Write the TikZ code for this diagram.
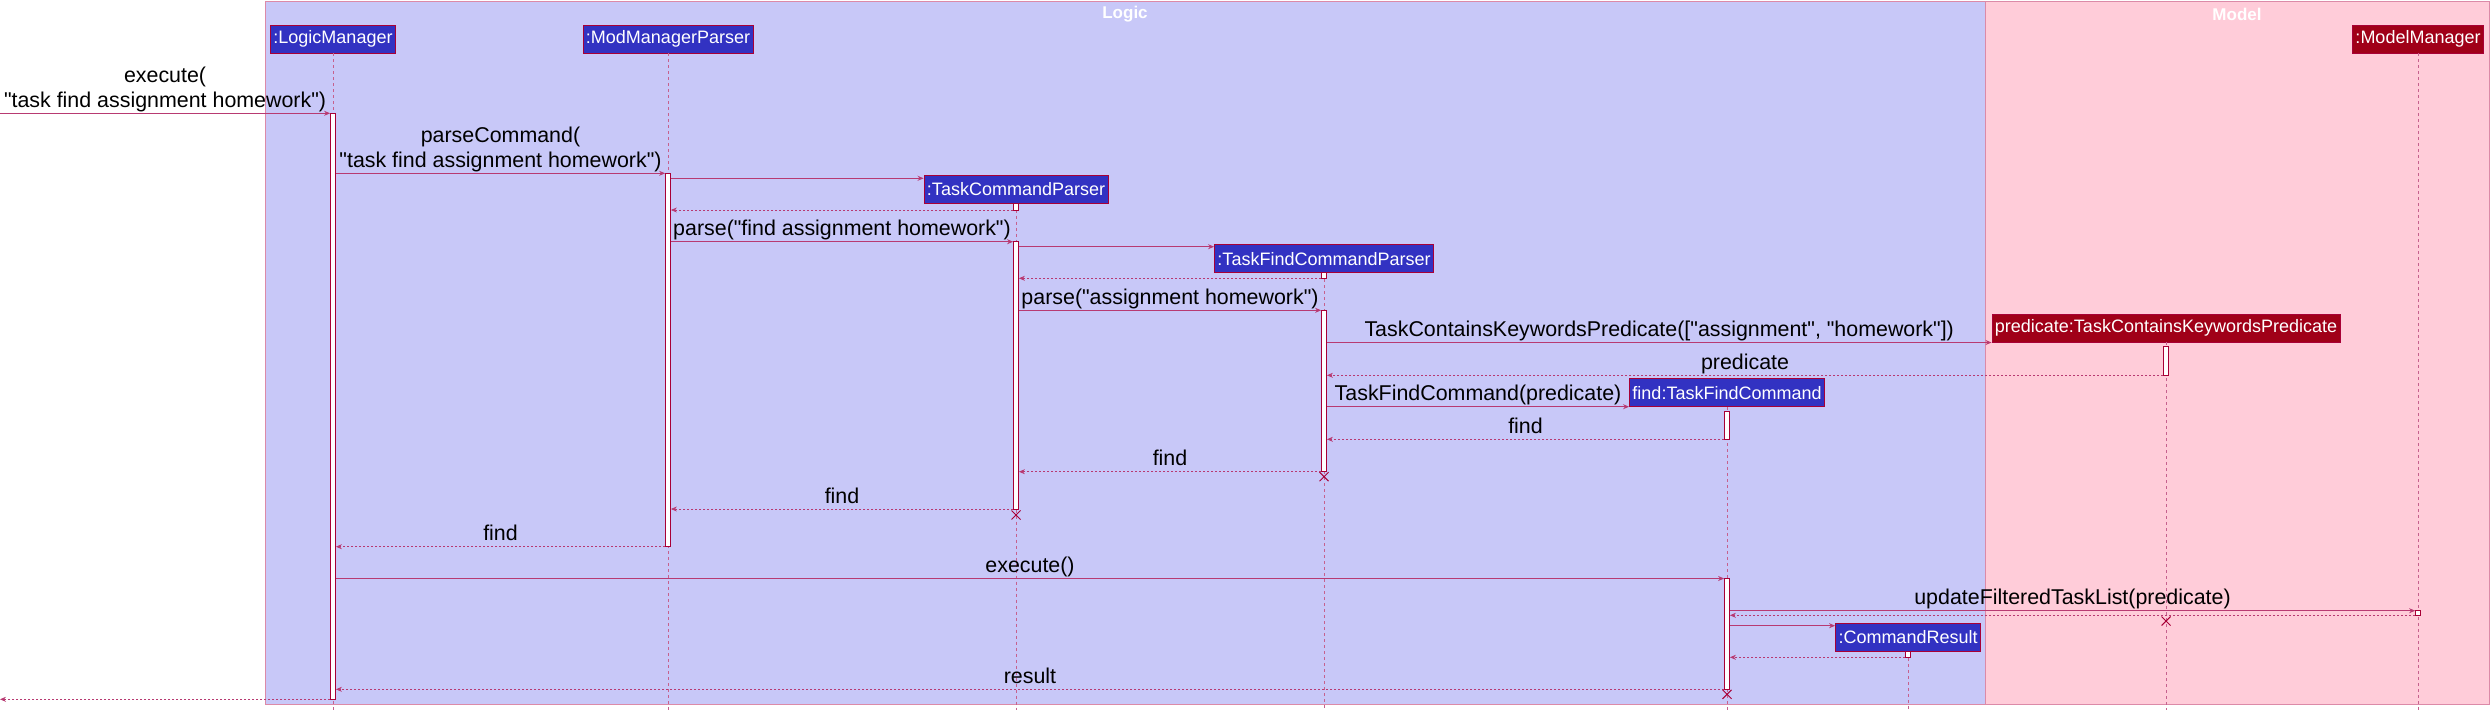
\documentclass[tikz,border=0pt]{standalone}
\usepackage{fontspec}
\setmainfont{Liberation Sans}
\newfontfamily\lsans{Liberation Sans}
\usetikzlibrary{arrows.meta,shapes.misc}
\definecolor{logicFill}{HTML}{C8C8F8}
\definecolor{modelFill}{HTML}{FFCCD9}
\definecolor{frameLine}{HTML}{DC8AA8}
\definecolor{seqLine}{HTML}{B83A72}
\definecolor{boxBlue}{HTML}{3232C2}
\definecolor{boxRed}{HTML}{A00018}
\definecolor{boxBorder}{HTML}{A80036}
\newcommand\actbar[4]{\node[act, minimum height={#4-#3}] (#1) at (#2,{(#3+#4)/2}) {};}
\begin{document}
\begin{tikzpicture}[x=1pt,y=-1pt,
  frame/.style={draw=frameLine, line width=1pt},
  ttl/.style={text=white, inner sep=0pt, font=\lsans\bfseries\fontsize{17}{20}\selectfont},
  part/.style={draw=boxBorder, line width=0.8pt, fill=boxBlue, text=white, font=\lsans\fontsize{18}{20}\selectfont, minimum height=28pt, inner xsep=3pt, inner ysep=0pt},
  partred/.style={part, fill=boxRed},
  life/.style={draw=seqLine!80!white, line width=0.7pt, dash pattern=on 3pt off 3pt},
  act/.style={draw=boxBorder, fill=white, line width=0.8pt, inner sep=0pt, minimum width=5pt},
  msg/.style={draw=seqLine, line width=1pt, -{Stealth[length=6pt,width=5pt]}},
  ret/.style={msg, dash pattern=on 2pt off 2pt, line width=0.7pt},
  lbl/.style={anchor=base, yshift=6pt, inner sep=0pt, font=\lsans\fontsize{21.4}{25}\selectfont, text=black},
  xmark/.style={cross out, draw=boxBorder, line width=1pt, minimum size=8pt, inner sep=0pt},
]
\useasboundingbox (0,0) rectangle (2491,710);
\fill[white] (0,0) rectangle (2491,710);
% frames
\draw[frame, fill=logicFill] (265.5,1) rectangle (1985,704);
\draw[frame, fill=modelFill] (1985,1) rectangle (2489,704);
\node[ttl] (tLogic) at (1125,14) {Logic};
\node[ttl] (tModel) at (2237,14) {Model};
\coordinate (bottom) at (0,710);
% participants
\node[part] (bLM) at (333,39) {:LogicManager};
\node[part] (bMMP) at (668,39) {:ModManagerParser};
\node[partred] (bMM) at (2418,39) {:ModelManager};
\node[part] (bTCP) at (1016,189.3) {:TaskCommandParser};
\node[part] (bTFCP) at (1324,258.7) {:TaskFindCommandParser};
\node[partred] (bPred) at (2166,328) {predicate:TaskContainsKeywordsPredicate};
\node[part] (bFind) at (1727,392.7) {find:TaskFindCommand};
\node[part] (bCR) at (1908,637.5) {:CommandResult};
% lifelines
\foreach \b in {bLM,bMMP,bMM,bTCP,bTFCP,bPred,bFind,bCR}
  \draw[life] (\b.south) -- (\b.south |- bottom);
% activations
\actbar{aLM}{333}{113.3}{699.3}
\actbar{aMMP}{668}{173.3}{546.7}
\actbar{aTCPa}{1016}{203.3}{210}
\actbar{aTCP}{1016}{241.7}{509}
\actbar{aTFCPa}{1324}{272.7}{278.3}
\actbar{aTFCP}{1324}{310.3}{471.7}
\actbar{aPred}{2166}{346.7}{375.3}
\actbar{aFind}{1727}{411.7}{439.3}
\actbar{aFindb}{1727}{578.5}{689.3}
\actbar{aMM}{2418}{610.7}{615.3}
\actbar{aCR}{1908}{651.7}{657.3}
% message rows
\coordinate (m1) at (0,113.3);
\coordinate (m2) at (0,173.3);
\coordinate (m3) at (0,178.3);
\coordinate (m4) at (0,210);
\coordinate (m5) at (0,241.7);
\coordinate (m6) at (0,246.7);
\coordinate (m7) at (0,278.3);
\coordinate (m8) at (0,310.3);
\coordinate (m9) at (0,342.5);
\coordinate (m10) at (0,375.3);
\coordinate (m11) at (0,406.7);
\coordinate (m12) at (0,439.3);
\coordinate (m13) at (0,471.7);
\coordinate (m14) at (0,509);
\coordinate (m15) at (0,546.7);
\coordinate (m16) at (0,578.5);
\coordinate (m17) at (0,610.7);
\coordinate (m18) at (0,615.3);
\coordinate (m19) at (0,625.7);
\coordinate (m20) at (0,657.3);
\coordinate (m21) at (0,689.3);
\coordinate (m22) at (0,699.3);
% messages
\draw[msg] (m1) -- node[lbl]{"task find assignment homework")} node[lbl, yshift=25pt]{execute(} (aLM.west |- m1);
\draw[msg] (aLM.east |- m2) -- node[lbl]{"task find assignment homework")} node[lbl, yshift=25pt]{parseCommand(} (aMMP.west |- m2);
\draw[msg] (aMMP.east |- m3) -- (bTCP.west |- m3);
\draw[ret] (aTCPa.west |- m4) -- (aMMP.east |- m4);
\draw[msg] (aMMP.east |- m5) -- node[lbl]{parse("find assignment homework")} (aTCP.west |- m5);
\draw[msg] (aTCP.east |- m6) -- (bTFCP.west |- m6);
\draw[ret] (aTFCPa.west |- m7) -- (aTCP.east |- m7);
\draw[msg] (aTCP.east |- m8) -- node[lbl]{parse("assignment homework")} (aTFCP.west |- m8);
\draw[msg] (aTFCP.east |- m9) -- node[lbl]{TaskContainsKeywordsPredicate(["assignment", "homework"])} (bPred.west |- m9);
\draw[ret] (aPred.west |- m10) -- node[lbl]{predicate} (aTFCP.east |- m10);
\draw[msg] (aTFCP.east |- m11) -- node[lbl]{TaskFindCommand(predicate)} (bFind.west |- m11);
\draw[ret] (aFind.west |- m12) -- node[lbl]{find} (aTFCP.east |- m12);
\draw[ret] (aTFCP.west |- m13) -- node[lbl]{find} (aTCP.east |- m13);
\draw[ret] (aTCP.west |- m14) -- node[lbl]{find} (aMMP.east |- m14);
\draw[ret] (aMMP.west |- m15) -- node[lbl]{find} (aLM.east |- m15);
\draw[msg] (aLM.east |- m16) -- node[lbl]{execute()} (aFindb.west |- m16);
\draw[msg] (aFindb.east |- m17) -- node[lbl]{updateFilteredTaskList(predicate)} (aMM.west |- m17);
\draw[ret] (aMM.west |- m18) -- (aFindb.east |- m18);
\draw[msg] (aFindb.east |- m19) -- (bCR.west |- m19);
\draw[ret] (aCR.west |- m20) -- (aFindb.east |- m20);
\draw[ret] (aFindb.west |- m21) -- node[lbl]{result} (aLM.east |- m21);
\draw[ret] (aLM.west |- m22) -- (m22);
% destructions
\node[xmark] (xTCP) at (1016,515) {};
\node[xmark] (xTFCP) at (1324,476.7) {};
\node[xmark] (xPred) at (2166,621) {};
\node[xmark] (xFind) at (1727,694.3) {};
\end{tikzpicture}
\end{document}
